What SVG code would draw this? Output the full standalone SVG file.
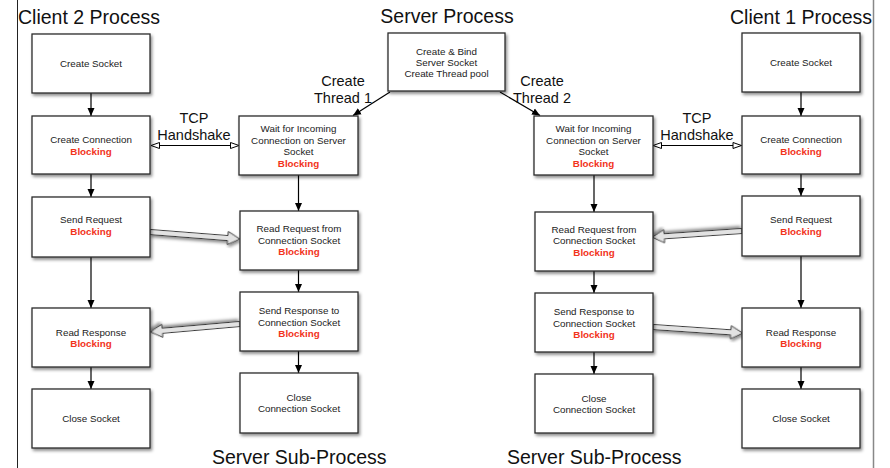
<svg xmlns="http://www.w3.org/2000/svg" width="890" height="468" viewBox="0 0 890 468">
  <style>
    .box { fill: #fff; stroke: #2b2b2b; stroke-width: 1.3; filter: url(#shadow); }
    .lbl { font-family: "Liberation Sans", Arial, sans-serif; font-size: 9.8px; fill: #222; text-anchor: middle; }
    .blk { font-family: "Liberation Sans", Arial, sans-serif; font-size: 9.8px; font-weight: bold; fill: #f2331b; text-anchor: middle; }
    .title { font-family: "Liberation Sans", Arial, sans-serif; font-size: 19.5px; fill: #111; }
    .note { font-family: "Liberation Sans", Arial, sans-serif; font-size: 14.5px; fill: #111; text-anchor: middle; }
    .flow { stroke: #000; stroke-width: 1.2; fill: none; marker-end: url(#arrow); }
    .tcp { stroke: #000; stroke-width: 1.1; fill: none; marker-start: url(#hollow); marker-end: url(#hollow); }
    .data { fill: #e2e2e2; stroke: #3a3a3a; stroke-width: 1; filter: url(#shadow); }
  </style>
  <defs>
    <filter id="shadow" x="-15%" y="-15%" width="140%" height="140%">
      <feDropShadow dx="1.5" dy="2.2" stdDeviation="1.6" flood-color="#000" flood-opacity="0.45"/>
    </filter>
    <marker id="arrow" viewBox="0 0 8 8" refX="8" refY="4" markerWidth="8" markerHeight="8" orient="auto" markerUnits="userSpaceOnUse">
      <path d="M0,0.5 L8,4 L0,7.5 z" fill="#000"/>
    </marker>
    <marker id="hollow" viewBox="0 0 10 8" refX="9.5" refY="4" markerWidth="10" markerHeight="8" orient="auto-start-reverse" markerUnits="userSpaceOnUse">
      <path d="M1,1 L9.5,4 L1,7 z" fill="#fff" stroke="#000" stroke-width="1"/>
    </marker>
    <!-- wide data-transfer arrow, 90px long, pointing along +x -->
    <path id="pipe" d="M0,-2.5 L78,-2.5 L78,-6.5 L90,0 L78,6.5 L78,2.5 L0,2.5 z"/>
  </defs>

  <rect width="890" height="468" fill="#fff"/>

  <!-- frame edges -->
  <line x1="17.5" y1="0" x2="17.5" y2="468" stroke="#222" stroke-width="1"/>
  <line x1="873.5" y1="0" x2="873.5" y2="468" stroke="#888" stroke-width="1.5"/>

  <!-- section titles -->
  <text class="title" x="18" y="24">Client 2 Process</text>
  <text class="title" x="447" y="23" text-anchor="middle">Server Process</text>
  <text class="title" x="730" y="24">Client 1 Process</text>
  <text class="title" x="212" y="464">Server Sub-Process</text>
  <text class="title" x="507" y="464">Server Sub-Process</text>

  <!-- connectors -->
  <g id="connectors">
    <!-- client 2 -->
    <line class="flow" x1="91" y1="93" x2="91" y2="116"/>
    <line class="flow" x1="91" y1="174" x2="91" y2="197"/>
    <line class="flow" x1="91" y1="257" x2="91" y2="308"/>
    <line class="flow" x1="91" y1="367" x2="91" y2="389"/>
    <!-- server sub-process 1 -->
    <line class="flow" x1="298.5" y1="175" x2="298.5" y2="211"/>
    <line class="flow" x1="298.5" y1="270" x2="298.5" y2="292"/>
    <line class="flow" x1="298.5" y1="351" x2="298.5" y2="373"/>
    <!-- server sub-process 2 -->
    <line class="flow" x1="594" y1="175" x2="594" y2="212"/>
    <line class="flow" x1="594" y1="271" x2="594" y2="293"/>
    <line class="flow" x1="594" y1="352" x2="594" y2="374"/>
    <!-- client 1 -->
    <line class="flow" x1="801" y1="92" x2="801" y2="116"/>
    <line class="flow" x1="801" y1="174" x2="801" y2="196"/>
    <line class="flow" x1="801" y1="256" x2="801" y2="308"/>
    <line class="flow" x1="801" y1="367" x2="801" y2="389"/>
    <!-- thread creation -->
    <line class="flow" x1="390" y1="92" x2="353" y2="115.5"/>
    <line class="flow" x1="500" y1="92" x2="540" y2="115.5"/>
    <!-- TCP handshakes -->
    <line class="tcp" x1="151" y1="145.5" x2="239" y2="145.5"/>
    <line class="tcp" x1="653" y1="145.5" x2="741.5" y2="145.5"/>
    <!-- request / response transfers -->
    <use href="#pipe" class="data" transform="translate(150,232) rotate(4.45)"/>
    <use href="#pipe" class="data" transform="translate(240,324) rotate(175)"/>
    <use href="#pipe" class="data" transform="translate(742,231) rotate(176.1)"/>
    <use href="#pipe" class="data" transform="translate(653,327) rotate(3.9)"/>
  </g>

  <!-- connector labels -->
  <text class="note" x="343" y="86">Create</text>
  <text class="note" x="343" y="103">Thread 1</text>
  <text class="note" x="542" y="86">Create</text>
  <text class="note" x="542" y="103">Thread 2</text>
  <text class="note" x="194" y="123">TCP</text>
  <text class="note" x="194" y="140">Handshake</text>
  <text class="note" x="697" y="123">TCP</text>
  <text class="note" x="697" y="140">Handshake</text>

  <!-- server main process -->
  <g id="server-main">
    <rect class="box" x="388" y="33" width="117" height="58"/>
    <text class="lbl" x="446.5" y="54.5">Create &amp; Bind</text>
    <text class="lbl" x="446.5" y="65.5">Server Socket</text>
    <text class="lbl" x="446.5" y="76.5">Create Thread pool</text>
  </g>

  <!-- client 2 -->
  <g id="c2-create-socket">
    <rect class="box" x="32" y="34" width="118" height="59"/>
    <text class="lbl" x="91" y="66.5">Create Socket</text>
  </g>
  <g id="c2-create-connection">
    <rect class="box" x="32" y="116" width="118" height="58"/>
    <text class="lbl" x="91" y="142.5">Create Connection</text>
    <text class="blk" x="91" y="154.5">Blocking</text>
  </g>
  <g id="c2-send-request">
    <rect class="box" x="32" y="197" width="118" height="60"/>
    <text class="lbl" x="91" y="223">Send Request</text>
    <text class="blk" x="91" y="235">Blocking</text>
  </g>
  <g id="c2-read-response">
    <rect class="box" x="32" y="308" width="118" height="59"/>
    <text class="lbl" x="91" y="335.5">Read Response</text>
    <text class="blk" x="91" y="346.5">Blocking</text>
  </g>
  <g id="c2-close-socket">
    <rect class="box" x="32" y="389" width="118" height="59"/>
    <text class="lbl" x="91" y="421.5">Close Socket</text>
  </g>

  <!-- server sub-process 1 -->
  <g id="s1-wait">
    <rect class="box" x="239" y="116" width="119" height="59"/>
    <text class="lbl" x="298.5" y="131.5">Wait for Incoming</text>
    <text class="lbl" x="298.5" y="143.5">Connection on Server</text>
    <text class="lbl" x="298.5" y="154.5">Socket</text>
    <text class="blk" x="298.5" y="166.5">Blocking</text>
  </g>
  <g id="s1-read-request">
    <rect class="box" x="240" y="211" width="118" height="59"/>
    <text class="lbl" x="299" y="231.5">Read Request from</text>
    <text class="lbl" x="299" y="243.5">Connection Socket</text>
    <text class="blk" x="299" y="255">Blocking</text>
  </g>
  <g id="s1-send-response">
    <rect class="box" x="240" y="292" width="118" height="59"/>
    <text class="lbl" x="299" y="313.5">Send Response to</text>
    <text class="lbl" x="299" y="325.5">Connection Socket</text>
    <text class="blk" x="299" y="336.5">Blocking</text>
  </g>
  <g id="s1-close">
    <rect class="box" x="240" y="373" width="118" height="60"/>
    <text class="lbl" x="299" y="400.5">Close</text>
    <text class="lbl" x="299" y="411.5">Connection Socket</text>
  </g>

  <!-- server sub-process 2 -->
  <g id="s2-wait">
    <rect class="box" x="534" y="116" width="119" height="59"/>
    <text class="lbl" x="593.5" y="131.5">Wait for Incoming</text>
    <text class="lbl" x="593.5" y="143.5">Connection on Server</text>
    <text class="lbl" x="593.5" y="154.5">Socket</text>
    <text class="blk" x="593.5" y="166.5">Blocking</text>
  </g>
  <g id="s2-read-request">
    <rect class="box" x="535" y="212" width="118" height="59"/>
    <text class="lbl" x="594" y="232.5">Read Request from</text>
    <text class="lbl" x="594" y="243.5">Connection Socket</text>
    <text class="blk" x="594" y="256">Blocking</text>
  </g>
  <g id="s2-send-response">
    <rect class="box" x="535" y="293" width="118" height="59"/>
    <text class="lbl" x="594" y="314.5">Send Response to</text>
    <text class="lbl" x="594" y="326.5">Connection Socket</text>
    <text class="blk" x="594" y="337.5">Blocking</text>
  </g>
  <g id="s2-close">
    <rect class="box" x="535" y="374" width="118" height="59"/>
    <text class="lbl" x="594" y="401.5">Close</text>
    <text class="lbl" x="594" y="412.5">Connection Socket</text>
  </g>

  <!-- client 1 -->
  <g id="c1-create-socket">
    <rect class="box" x="742" y="33" width="118" height="59"/>
    <text class="lbl" x="801" y="66">Create Socket</text>
  </g>
  <g id="c1-create-connection">
    <rect class="box" x="742" y="116" width="118" height="58"/>
    <text class="lbl" x="801" y="142.5">Create Connection</text>
    <text class="blk" x="801" y="154.5">Blocking</text>
  </g>
  <g id="c1-send-request">
    <rect class="box" x="742" y="196" width="118" height="60"/>
    <text class="lbl" x="801" y="223">Send Request</text>
    <text class="blk" x="801" y="235">Blocking</text>
  </g>
  <g id="c1-read-response">
    <rect class="box" x="742" y="308" width="118" height="59"/>
    <text class="lbl" x="801" y="335.5">Read Response</text>
    <text class="blk" x="801" y="346.5">Blocking</text>
  </g>
  <g id="c1-close-socket">
    <rect class="box" x="742" y="389" width="118" height="59"/>
    <text class="lbl" x="801" y="421.5">Close Socket</text>
  </g>
</svg>
